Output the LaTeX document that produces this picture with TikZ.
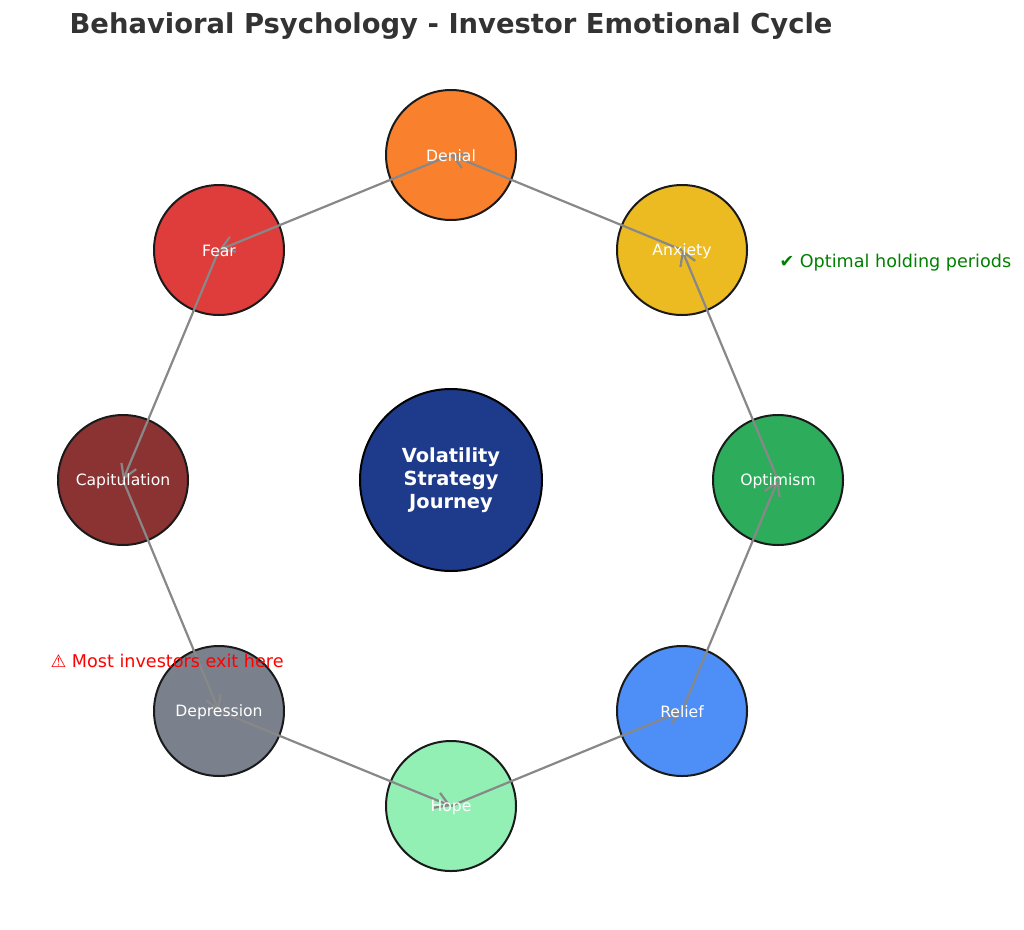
\documentclass[tikz,border=0pt]{standalone}
\usepackage{fontspec}
\setmainfont{DejaVu Sans}
\usetikzlibrary{arrows.meta}
\definecolor{cDenial}{HTML}{F9812D}
\definecolor{cAnxiety}{HTML}{ECBB21}
\definecolor{cOptimism}{HTML}{2DAC5C}
\definecolor{cRelief}{HTML}{4E8EF7}
\definecolor{cHope}{HTML}{92F0B4}
\definecolor{cDepression}{HTML}{7A808C}
\definecolor{cCapitulation}{HTML}{8B3333}
\definecolor{cFear}{HTML}{DF3C3C}
\definecolor{cCenter}{HTML}{1E3A8A}
\definecolor{cEdge}{HTML}{1A1A1A}
\definecolor{cTitle}{HTML}{333333}
\definecolor{cLine}{HTML}{888888}
\definecolor{cGood}{HTML}{008000}
\definecolor{cBad}{HTML}{FF0000}
\begin{document}
\begin{tikzpicture}[x=1pt,y=-1pt,
  stage/.style={circle,draw=cEdge,line width=2pt,minimum size=130pt,inner sep=0pt},
  stagelabel/.style={text=white,font=\fontsize{15.6}{18}\selectfont,yshift=-1pt},
  flow/.style={draw=cLine,line width=2.2pt,-{Straight Barb[length=13pt,width=16pt]}},
  note/.style={anchor=west,font=\fontsize{17.6}{20}\selectfont}]
\useasboundingbox (0,0) rectangle (1024,929);
\node[font=\bfseries\fontsize{27.4}{32}\selectfont,text=cTitle] (title) at (451,26) {Behavioral Psychology - Investor Emotional Cycle};
\node[circle,draw=black,line width=2pt,fill=cCenter,minimum size=182pt,inner sep=0pt] (center) at (451,480) {};
\node[stage,fill=cDenial] (denial) at (451,155) {};
\node[stage,fill=cAnxiety] (anxiety) at (682,250) {};
\node[stage,fill=cOptimism] (optimism) at (778,480) {};
\node[stage,fill=cRelief] (relief) at (682,711) {};
\node[stage,fill=cHope] (hope) at (451,806) {};
\node[stage,fill=cDepression] (depression) at (219,711) {};
\node[stage,fill=cCapitulation] (capitulation) at (123,480) {};
\node[stage,fill=cFear] (fear) at (219,250) {};
\draw[flow] (hope.center) -- (relief.center);
\draw[flow] (relief.center) -- (optimism.center);
\draw[flow] (optimism.center) -- (anxiety.center);
\draw[flow] (anxiety.center) -- (denial.center);
\draw[flow] (denial.center) -- (fear.center);
\draw[flow] (fear.center) -- (capitulation.center);
\draw[flow] (capitulation.center) -- (depression.center);
\draw[flow] (depression.center) -- (hope.center);
\node[stagelabel] (tdenial) at (denial.center) {Denial};
\node[stagelabel] (tanxiety) at (anxiety.center) {Anxiety};
\node[stagelabel] (toptimism) at (optimism.center) {Optimism};
\node[stagelabel] (trelief) at (relief.center) {Relief};
\node[stagelabel] (thope) at (hope.center) {Hope};
\node[stagelabel] (tdepression) at (depression.center) {Depression};
\node[stagelabel] (tcapitulation) at (capitulation.center) {Capitulation};
\node[stagelabel] (tfear) at (fear.center) {Fear};
\node[text=white,align=center,font=\bfseries\fontsize{19.4}{23}\selectfont] (tcenter) at (center.center) {Volatility\\Strategy\\Journey};
\node[note,text=cGood] (good) at (776,263) {✔ Optimal holding periods};
\node[note,text=cBad] (bad) at (47,661) {⚠ Most investors exit here};
\end{tikzpicture}
\end{document}
